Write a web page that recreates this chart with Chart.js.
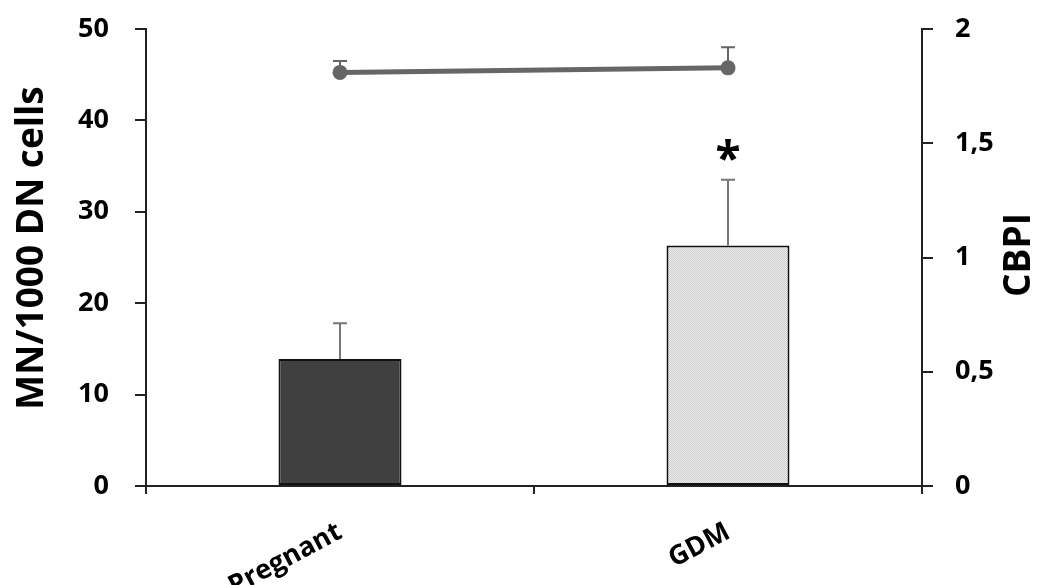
<!DOCTYPE html>
<html>
<head>
<meta charset="utf-8">
<script src="https://cdn.jsdelivr.net/npm/chart.js@4.4.1/dist/chart.umd.min.js"></script>
<style>
  html, body { margin: 0; padding: 0; background: #fff; }
  #wrap { width: 1037px; height: 585px; position: relative; }
</style>
</head>
<body>
<div id="wrap"><canvas id="chart"></canvas></div>
<script>
const categories = ["Pregnant", "GDM"];
const mnValues = [13.9, 26.3];
const mnErrors = [3.9, 7.2];
const cbpiValues = [1.81, 1.83];
const cbpiErrors = [0.05, 0.09];
const leftTicks = [0, 10, 20, 30, 40, 50];
const rightTicks = [0, 0.5, 1, 1.5, 2];
const starFlags = [false, true];

const FONT = "'Open Sans', 'DejaVu Sans', sans-serif";

// light dotted fill for the GDM bar
function dotPattern() {
  const c = document.createElement("canvas");
  c.width = 2;
  c.height = 2;
  const g = c.getContext("2d");
  g.fillStyle = "#ececec";
  g.fillRect(0, 0, 2, 2);
  g.fillStyle = "#cfcfcf";
  g.fillRect(0, 0, 1, 1);
  g.fillRect(1, 1, 1, 1);
  return g.createPattern(c, "repeat");
}

// upper error whiskers + significance star
const errorBars = {
  id: "errorBars",
  afterDatasetsDraw(chart) {
    const ctx = chart.ctx;
    chart.data.datasets.forEach((ds, i) => {
      if (!ds.errors) return;
      const meta = chart.getDatasetMeta(i);
      const scale = chart.scales[ds.yAxisID];
      meta.data.forEach((el, j) => {
        const x = el.x;
        const y0 = scale.getPixelForValue(ds.data[j]);
        const y1 = scale.getPixelForValue(ds.data[j] + ds.errors[j]);
        ctx.save();
        ctx.strokeStyle = ds.errorColor;
        ctx.lineWidth = 2;
        ctx.beginPath();
        ctx.moveTo(x, y0);
        ctx.lineTo(x, y1);
        ctx.moveTo(x - 7, y1);
        ctx.lineTo(x + 7, y1);
        ctx.stroke();
        if (ds.stars && ds.stars[j]) {
          ctx.fillStyle = "#000";
          ctx.font = "bold 46px " + FONT;
          ctx.textAlign = "center";
          ctx.textBaseline = "alphabetic";
          ctx.fillText("*", x, y1 - 5);
        }
        ctx.restore();
      });
    });
  }
};

// both axis titles read bottom-to-top
const axisTitles = {
  id: "axisTitles",
  afterDraw(chart) {
    const ctx = chart.ctx;
    const a = chart.chartArea;
    const put = (text, x, y) => {
      ctx.save();
      ctx.translate(x, y);
      ctx.rotate(-Math.PI / 2);
      ctx.fillStyle = "#000";
      ctx.font = "bold 37px " + FONT;
      ctx.textAlign = "center";
      ctx.textBaseline = "alphabetic";
      ctx.fillText(text, 0, 0);
      ctx.restore();
    };
    put("MN/1000 DN cells", 43, a.top + 219);
    put("CBPI", 1030, a.top + 226);
  }
};

const commaFmt = (v) => String(v).replace(".", ",");

new Chart(document.getElementById("chart"), {
  data: {
    labels: categories,
    datasets: [
      {
        type: "line",
        label: "CBPI",
        data: cbpiValues,
        errors: cbpiErrors,
        errorColor: "#666",
        yAxisID: "y1",
        borderColor: "#666",
        backgroundColor: "#666",
        borderWidth: 5,
        pointRadius: 7.5,
        pointHoverRadius: 7.5,
        pointBorderWidth: 0,
        order: 0
      },
      {
        type: "bar",
        label: "MN/1000 DN cells",
        data: mnValues,
        errors: mnErrors,
        errorColor: "#777",
        stars: starFlags,
        yAxisID: "y",
        backgroundColor: ["#404040", dotPattern()],
        borderColor: "#111",
        borderWidth: 2,
        borderSkipped: false,
        barPercentage: 0.317,
        categoryPercentage: 1,
        order: 1
      }
    ]
  },
  options: {
    responsive: true,
    maintainAspectRatio: false,
    animation: false,
    layout: { padding: { top: 29, left: 0, right: 0, bottom: 0 } },
    plugins: {
      legend: { display: false },
      tooltip: { enabled: false }
    },
    scales: {
      x: {
        offset: true,
        afterFit(s) { s.height = 99; s.paddingLeft = 0; s.paddingRight = 0; },
        border: { color: "#222", width: 2 },
        grid: { offset: true, drawOnChartArea: false, tickLength: 8, color: "#222", lineWidth: 2 },
        ticks: {
          color: "#000",
          font: { family: FONT, size: 27, weight: "bold" },
          minRotation: 28,
          maxRotation: 28,
          padding: 22
        }
      },
      y: {
        position: "left",
        min: 0,
        max: 50,
        afterFit(s) { s.width = 146; s.paddingTop = 0; s.paddingBottom = 0; },
        afterBuildTicks(s) { s.ticks = leftTicks.map((v) => ({ value: v })); },
        border: { color: "#222", width: 2 },
        grid: { drawOnChartArea: false, tickLength: 11, color: "#222", lineWidth: 2 },
        ticks: {
          color: "#000",
          font: { family: FONT, size: 27, weight: "bold" },
          padding: 26
        }
      },
      y1: {
        position: "right",
        min: 0,
        max: 2,
        afterFit(s) { s.width = 115; s.paddingTop = 0; s.paddingBottom = 0; },
        afterBuildTicks(s) { s.ticks = rightTicks.map((v) => ({ value: v })); },
        border: { color: "#222", width: 2 },
        grid: { drawOnChartArea: false, tickLength: 11, color: "#222", lineWidth: 2 },
        ticks: {
          color: "#000",
          font: { family: FONT, size: 27, weight: "bold" },
          padding: 22,
          callback: (v) => commaFmt(v)
        }
      }
    }
  },
  plugins: [errorBars, axisTitles]
});
</script>
</body>
</html>
